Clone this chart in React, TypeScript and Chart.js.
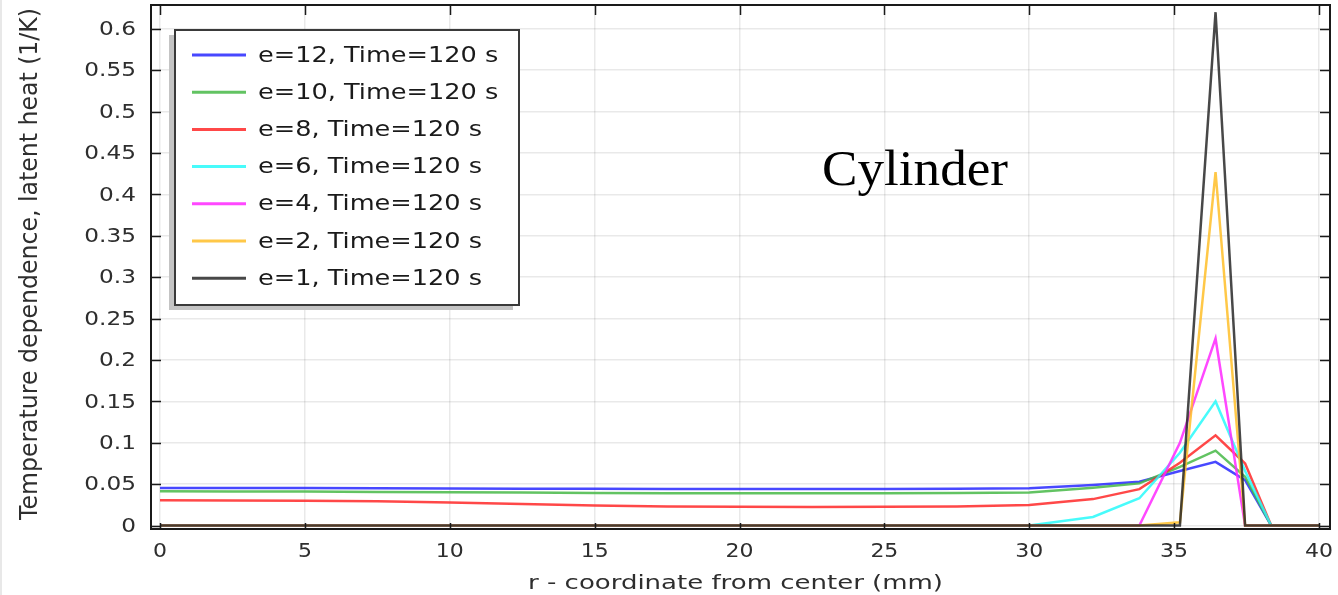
import React, { useEffect, useRef } from "react";
import { Chart, registerables } from "chart.js";

Chart.register(...registerables);

// Radial mesh nodes (mm) along which the profiles were sampled
const rCoord = [0, 2.5, 5, 7.5, 10, 12.5, 15, 17.5, 20, 22.5, 25, 27.5, 30, 32.2, 33.8, 35.2, 36.43, 37.45, 38.35, 40];

// Temperature dependence of latent heat (1/K) for each e value at t = 120 s
const e12 = [0.0455, 0.0455, 0.0453, 0.0451, 0.0449, 0.0446, 0.0444, 0.0442, 0.0441, 0.0441, 0.0442, 0.0444, 0.0452, 0.049, 0.053, 0.066, 0.077, 0.055, 0, 0];
const e10 = [0.0414, 0.0413, 0.0411, 0.0407, 0.0403, 0.0399, 0.0395, 0.0392, 0.039, 0.039, 0.0391, 0.0393, 0.0401, 0.0458, 0.051, 0.071, 0.0905, 0.059, 0, 0];
const e8 = [0.0305, 0.0304, 0.03, 0.0293, 0.028, 0.0262, 0.0243, 0.0232, 0.0227, 0.0226, 0.0227, 0.0232, 0.025, 0.032, 0.044, 0.076, 0.109, 0.075, 0, 0];
const e6 = [0, 0, 0, 0, 0, 0, 0, 0, 0, 0, 0, 0, 0, 0.0104, 0.033, 0.088, 0.15, 0.066, 0, 0];
const e4 = [0, 0, 0, 0, 0, 0, 0, 0, 0, 0, 0, 0, 0, 0, 0, 0.1, 0.226, 0, 0, 0];
const e2 = [0, 0, 0, 0, 0, 0, 0, 0, 0, 0, 0, 0, 0, 0, 0, 0.004, 0.427, 0, 0, 0];
const e1 = [0, 0, 0, 0, 0, 0, 0, 0, 0, 0, 0, 0, 0, 0, 0, 0, 0.62, 0, 0, 0];

const seriesValues = [e12, e10, e8, e6, e4, e2, e1];
const seriesLabels = [
  "e=12, Time=120 s",
  "e=10, Time=120 s",
  "e=8, Time=120 s",
  "e=6, Time=120 s",
  "e=4, Time=120 s",
  "e=2, Time=120 s",
  "e=1, Time=120 s",
];
const seriesColors = [
  "rgba(40,40,255,0.85)",
  "rgba(70,185,70,0.85)",
  "rgba(255,40,40,0.85)",
  "rgba(40,250,250,0.85)",
  "rgba(255,40,255,0.85)",
  "rgba(255,190,40,0.85)",
  "rgba(40,40,40,0.85)",
];

const xTitle = "r - coordinate from center (mm)";
const yTitle = "Temperature dependence, latent heat (1/K)";
const note = "Cylinder";

const SANS = "'DejaVu Sans', sans-serif";
const SERIF = "'Liberation Serif', serif";

function fmt(v: number): string {
  return String(parseFloat(v.toFixed(3)));
}

// Draws text squeezed or widened horizontally
function wideText(ctx: CanvasRenderingContext2D, text: string, x: number, y: number, sx: number, align: CanvasTextAlign) {
  ctx.save();
  ctx.translate(x, y);
  ctx.scale(sx, 1);
  ctx.textAlign = align;
  ctx.fillText(text, 0, 0);
  ctx.restore();
}

const decorations = {
  id: "decorations",
  afterDraw(chart: any) {
    const { ctx, chartArea: a, scales } = chart;
    const xs = scales.x;
    const ys = scales.y;
    ctx.save();

    // thin page edge
    ctx.fillStyle = "#e8e8e8";
    ctx.fillRect(0, 0, 2, chart.height);

    // plot frame
    ctx.strokeStyle = "#1a1a1a";
    ctx.lineWidth = 2;
    ctx.strokeRect(a.left, a.top, a.right - a.left, a.bottom - a.top);

    // inward tick marks on all four sides
    ctx.lineWidth = 1.5;
    ctx.beginPath();
    xs.ticks.forEach((t: any) => {
      const px = Math.round(xs.getPixelForValue(t.value)) + 0.5;
      ctx.moveTo(px, a.bottom);
      ctx.lineTo(px, a.bottom - 6);
      ctx.moveTo(px, a.top);
      ctx.lineTo(px, a.top + 10);
    });
    ys.ticks.forEach((t: any) => {
      const py = Math.round(ys.getPixelForValue(t.value)) + 0.5;
      ctx.moveTo(a.left, py);
      ctx.lineTo(a.left + 10, py);
      ctx.moveTo(a.right, py);
      ctx.lineTo(a.right - 10, py);
    });
    ctx.stroke();

    // tick labels
    ctx.fillStyle = "#2e2e2e";
    ctx.font = `20px ${SANS}`;
    ctx.textBaseline = "middle";
    ys.ticks.forEach((t: any) => {
      wideText(ctx, fmt(t.value), a.left - 15, ys.getPixelForValue(t.value) + 1, 1.16, "right");
    });
    xs.ticks.forEach((t: any) => {
      wideText(ctx, fmt(t.value), xs.getPixelForValue(t.value), a.bottom + 23, 1.1, "center");
    });

    // axis titles
    ctx.textBaseline = "alphabetic";
    ctx.font = `20px ${SANS}`;
    const xw = ctx.measureText(xTitle).width;
    wideText(ctx, xTitle, (a.left + a.right) / 2 - 5, 589, 415 / xw, "center");

    ctx.font = `24px ${SANS}`;
    const yw = ctx.measureText(yTitle).width;
    ctx.save();
    ctx.translate(37, 264);
    ctx.rotate(-Math.PI / 2);
    ctx.scale(512 / yw, 1);
    ctx.textAlign = "center";
    ctx.fillText(yTitle, 0, 0);
    ctx.restore();

    // legend box with drop shadow
    const lx = 175, ly = 30, lw = 344, lh = 275;
    ctx.fillStyle = "#c4c4c4";
    ctx.fillRect(lx - 6, ly + 5, lw, lh);
    ctx.fillStyle = "#fff";
    ctx.fillRect(lx, ly, lw, lh);
    ctx.strokeStyle = "#3a3a3a";
    ctx.lineWidth = 2;
    ctx.strokeRect(lx, ly, lw, lh);

    ctx.font = `21.5px ${SANS}`;
    ctx.textBaseline = "middle";
    chart.data.datasets.forEach((ds: any, i: number) => {
      const cy = 55 + i * 37.2;
      ctx.strokeStyle = ds.borderColor;
      ctx.lineWidth = 3;
      ctx.beginPath();
      ctx.moveTo(192, cy);
      ctx.lineTo(246, cy);
      ctx.stroke();
      ctx.fillStyle = "#1a1a1a";
      wideText(ctx, ds.label, 258, cy + 1, 1.19, "left");
    });

    // annotation
    ctx.fillStyle = "#000";
    ctx.textBaseline = "alphabetic";
    ctx.font = `50px ${SERIF}`;
    const nw = ctx.measureText(note).width;
    wideText(ctx, note, 822, 185, 186 / nw, "left");

    ctx.restore();
  },
};

export default function App() {
  const canvasRef = useRef<HTMLCanvasElement | null>(null);

  useEffect(() => {
    const canvas = canvasRef.current;
    if (!canvas) return;

    const datasets = seriesValues.map((vals, i) => ({
      label: seriesLabels[i],
      data: rCoord.map((r, k) => ({ x: r, y: vals[k] })),
      borderColor: seriesColors[i],
      backgroundColor: seriesColors[i],
      borderWidth: 2.5,
      pointRadius: 0,
      tension: 0,
      fill: false,
      order: seriesValues.length - 1 - i,
    }));

    const chart = new Chart(canvas, {
      type: "line",
      data: { datasets },
      options: {
        animation: false,
        responsive: false,
        maintainAspectRatio: false,
        devicePixelRatio: 1,
        layout: { padding: { left: 0, top: 5, right: 8, bottom: 0 } },
        plugins: {
          legend: { display: false },
          tooltip: { enabled: false },
        },
        scales: {
          x: {
            type: "linear",
            min: -0.311,
            max: 40.38,
            ticks: { display: false, stepSize: 5, includeBounds: false },
            grid: { color: "rgba(0,0,0,0.085)", lineWidth: 1.5, drawTicks: false },
            border: { display: false },
            afterFit: (s: any) => {
              s.height = 66;
            },
          },
          y: {
            type: "linear",
            min: -0.0041,
            max: 0.6287,
            ticks: { display: false, stepSize: 0.05, includeBounds: false },
            grid: { color: "rgba(0,0,0,0.085)", lineWidth: 1.5, drawTicks: false },
            border: { display: false },
            afterFit: (s: any) => {
              s.width = 151;
            },
          },
        },
      } as any,
      plugins: [decorations],
    });

    return () => chart.destroy();
  }, []);

  return (
    <div style={{ position: "fixed", left: 0, top: 0, width: 1338, height: 595, background: "#fff" }}>
      <canvas ref={canvasRef} width={1338} height={595} style={{ display: "block" }} />
    </div>
  );
}
